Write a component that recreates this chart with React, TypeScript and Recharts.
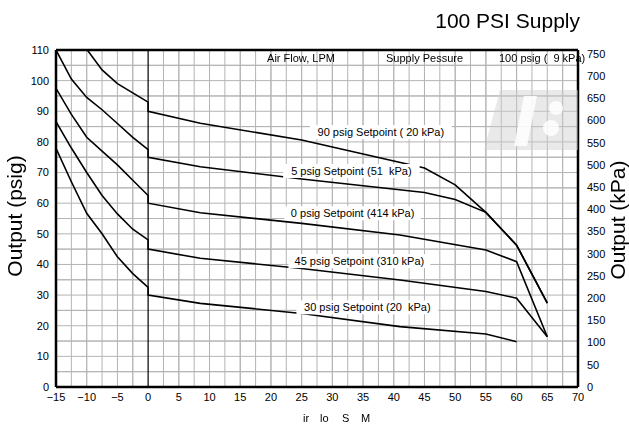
import React from 'react';
import { LineChart, Line, XAxis, YAxis, ReferenceLine, ReferenceDot, CartesianGrid } from 'recharts';

// ---- conversion factors for the secondary axes ----
const LPM_PER_SCFM = 28.3168;
const KPA_PER_PSI = 6.89476;

// ---- tick labels ----
const flowTicksScfm = [-15, -10, -5, 0, 5, 10, 15, 20, 25, 30, 35, 40, 45, 50, 55, 60, 65, 70];
const flowTicksLpm = [-250, 0, 250, 500, 750, 1000, 1250, 1500, 1750];
const outputTicksPsig = [0, 10, 20, 30, 40, 50, 60, 70, 80, 90, 100, 110];
const outputTicksKpa = [0, 50, 100, 150, 200, 250, 300, 350, 400, 450, 500, 550, 600, 650, 700, 750];
const gridFlow = [-12.5, -10, -7.5, -5, -2.5, 2.5, 5, 7.5, 10, 12.5, 15, 17.5, 20, 22.5, 25, 27.5, 30, 32.5, 35, 37.5, 40, 42.5, 45, 47.5, 50, 52.5, 55, 57.5, 60, 62.5, 65, 67.5];
const gridOutput = [5, 10, 15, 20, 25, 30, 35, 40, 45, 50, 55, 60, 65, 70, 75, 80, 85, 90, 95, 100, 105];

// ---- series (flow in SCFM, output in psig) ----
const sp90Flow = [-9.9, -7.5, -5, -2.5, 0, 0, 8.5, 25, 45, 50, 55, 60, 65];
const sp90Output = [110, 103.5, 99, 96, 93, 90, 86.1, 80.6, 71.5, 66, 57, 46.3, 27.4];

const sp75Flow = [-15, -12.5, -10, -7.5, -5, -2.5, 0, 0, 8.5, 25, 45, 50, 55, 60, 65];
const sp75Output = [110, 100.5, 94.5, 90.5, 86, 81.5, 77.5, 75, 71.9, 67.9, 63.5, 61.2, 57, 46.3, 27.4];

const sp60Flow = [-15, -12.5, -10, -7.5, -5, -2.5, 0, 0, 8.5, 25, 41, 55, 60, 65];
const sp60Output = [97.5, 89, 81.5, 77, 72.5, 67.5, 62.5, 60, 56.9, 53.4, 49.6, 44.7, 40.9, 16.4];

const sp45Flow = [-15, -12.5, -10, -7.5, -5, -2.5, 0, 0, 8.5, 25, 41, 55, 60, 65];
const sp45Output = [86.6, 78, 70, 62.5, 56.5, 51.5, 48, 45, 42, 38.7, 34.9, 31.2, 29, 16.4];

const sp30Flow = [-15, -12.5, -10, -7.5, -5, -2.5, 0, 0, 8.5, 25, 41, 55, 60];
const sp30Output = [77.9, 67, 56.7, 50, 42.5, 37, 32.5, 30, 27.3, 24, 19.7, 17.3, 14.8];

// ---- curve labels ----
const labelTexts = [
  '90 psig Setpoint ( 20 kPa)',
  '5 psig Setpoint (51  kPa)',
  '0 psig Setpoint (414 kPa)',
  '45 psig Setpoint (310 kPa)',
  '30 psig Setpoint (20  kPa)',
];
const labelFlow = [37.9, 33.1, 33.3, 34.4, 35.7];
const labelOutput = [83.2, 70.5, 56.7, 41.1, 26];

const X_DOMAIN: [number, number] = [-15, 70];
const Y_DOMAIN: [number, number] = [0, 110];

const zip = (xs: number[], ys: number[]) => xs.map((x, i) => ({ x, y: ys[i] }));
const series = [
  zip(sp90Flow, sp90Output),
  zip(sp75Flow, sp75Output),
  zip(sp60Flow, sp60Output),
  zip(sp45Flow, sp45Output),
  zip(sp30Flow, sp30Output),
];

const FONT = '"Liberation Sans", Arial, Helvetica, sans-serif';
const minus = (v: number) => String(v).replace('-', '\u2212');
const tickStyle = { fontSize: 11, fill: '#000', fontFamily: FONT };
const GRID = '#b4b4b4';

const makeLabelShape = (text: string) => (props: any) => {
  const { cx, cy } = props;
  if (cx == null || cy == null) return <g />;
  const w = text.length * 5.3 + 4;
  return (
    <g>
      <rect x={cx - w / 2} y={cy - 7} width={w} height={14} fill="#fff" />
      <text x={cx} y={cy + 4} textAnchor="middle" fontSize={11} fontFamily={FONT} fill="#000" style={{ whiteSpace: 'pre' }}>
        {text}
      </text>
    </g>
  );
};

export default function App() {
  return (
    <div style={{ marginLeft: -8, marginTop: -8, width: 629, height: 427, position: 'relative', background: '#fff' }}>
      <LineChart
        width={629}
        height={427}
        margin={{ top: 30, right: 11, bottom: 15, left: 16 }}
        style={{ fontFamily: FONT }}
      >
        <CartesianGrid
          xAxisId="scfm"
          yAxisId="psig"
          stroke={GRID}
          strokeWidth={1}
          verticalValues={gridFlow}
          horizontalValues={gridOutput}
        />
        <XAxis
          xAxisId="scfm"
          type="number"
          dataKey="x"
          domain={X_DOMAIN}
          ticks={flowTicksScfm}
          allowDataOverflow
          orientation="bottom"
          height={25}
          tickLine={false}
          tickSize={4}
          tickMargin={2}
          tick={tickStyle}
          tickFormatter={minus}
          axisLine={{ stroke: '#000', strokeWidth: 2.5 }}
        />
        <XAxis
          xAxisId="lpm"
          type="number"
          domain={[X_DOMAIN[0] * LPM_PER_SCFM, X_DOMAIN[1] * LPM_PER_SCFM]}
          ticks={flowTicksLpm}
          allowDataOverflow
          orientation="top"
          height={20}
          tickLine={false}
          tickSize={0}
          tickMargin={3}
          tick={tickStyle}
          tickFormatter={minus}
          axisLine={{ stroke: '#000', strokeWidth: 2.5 }}
        />
        <YAxis
          yAxisId="psig"
          type="number"
          domain={Y_DOMAIN}
          ticks={outputTicksPsig}
          allowDataOverflow
          orientation="left"
          width={40}
          tickLine={false}
          tickSize={4}
          tickMargin={3}
          tick={tickStyle}
          axisLine={{ stroke: '#000', strokeWidth: 2.5 }}
        />
        <YAxis
          yAxisId="kpa"
          type="number"
          domain={[Y_DOMAIN[0] * KPA_PER_PSI, Y_DOMAIN[1] * KPA_PER_PSI]}
          ticks={outputTicksKpa}
          allowDataOverflow
          orientation="right"
          width={40}
          tickLine={false}
          tickSize={4}
          tickMargin={5}
          tick={{ ...tickStyle, textAnchor: 'start' }}
          axisLine={{ stroke: '#000', strokeWidth: 2.5 }}
        />
        {gridFlow.map((v) => (
          <ReferenceLine key={'gx' + v} xAxisId="scfm" yAxisId="psig" x={v} stroke={GRID} strokeWidth={1} />
        ))}
        {gridOutput.map((v) => (
          <ReferenceLine key={'gy' + v} xAxisId="scfm" yAxisId="psig" y={v} stroke={GRID} strokeWidth={1} />
        ))}
        <ReferenceLine xAxisId="scfm" yAxisId="psig" x={0} stroke="#000" strokeWidth={1.2} />
        {series.map((d, i) => (
          <Line
            key={'s' + i}
            data={d}
            dataKey="y"
            xAxisId="scfm"
            yAxisId="psig"
            type="linear"
            stroke="#000"
            strokeWidth={1.6}
            dot={false}
            activeDot={false}
            isAnimationActive={false}
          />
        ))}
        {labelTexts.map((t, i) => (
          <ReferenceDot
            key={'l' + i}
            xAxisId="scfm"
            yAxisId="psig"
            x={labelFlow[i]}
            y={labelOutput[i]}
            r={0}
            shape={makeLabelShape(t)}
          />
        ))}
      </LineChart>
      {/* titles, annotations and the faint logo watermark */}
      <svg
        width={629}
        height={427}
        style={{ position: 'fixed', left: 0, top: 0, pointerEvents: 'none' }}
        fontFamily={FONT}
      >
        <polygon points="500,90 578,90 578,150 484,150" fill="#cfcfcf" fillOpacity={0.45} />
        <polygon points="524,96 537,96 527,146 514,146" fill="#ffffff" fillOpacity={0.85} />
        <circle cx={556} cy={108} r={7} fill="#ffffff" fillOpacity={0.85} />
        <circle cx={551} cy={128} r={8} fill="#ffffff" fillOpacity={0.85} />
        <text x={580} y={28} textAnchor="end" fontSize={21} fill="#000">100 PSI Supply</text>
        <text transform="translate(22,216) rotate(-90)" textAnchor="middle" fontSize={21} fill="#000">Output (psig)</text>
        <text transform="translate(625,220) rotate(-90)" textAnchor="middle" fontSize={21} fill="#000">Output (kPa)</text>
        <text x={301} y={62} textAnchor="middle" fontSize={11} fill="#000">Air Flow, LPM</text>
        <text x={386} y={62} fontSize={11} fill="#000">Supply Pessure</text>
        <text x={499} y={62} fontSize={11} fill="#000" style={{ whiteSpace: 'pre' }}>100 psig (  9 kPa)</text>
        <text y={422} fontSize={11} fill="#000">
          <tspan x={303}>ir </tspan>
          <tspan x={320}>lo </tspan>
          <tspan x={342}>S </tspan>
          <tspan x={361}>M</tspan>
        </text>
      </svg>
    </div>
  );
}
